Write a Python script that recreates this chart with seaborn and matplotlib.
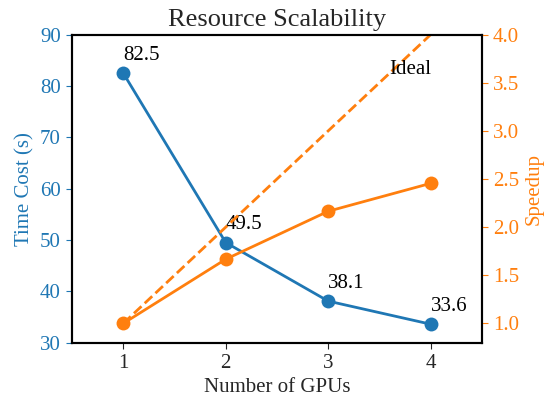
import matplotlib
matplotlib.use("Agg")
import matplotlib.pyplot as plt
import seaborn as sns
import pandas as pd

gpus = [1, 2, 3, 4]
time_cost = [82.5, 49.5, 38.1, 33.6]
speedup = [1.0, 1.667, 2.165, 2.455]
ideal = [1, 2, 3, 4]
time_labels = ["82.5", "49.5", "38.1", "33.6"]

sns.set_style("ticks")
plt.rcParams['font.family'] = ['Liberation Serif', 'DejaVu Serif']
plt.rcParams['mathtext.fontset'] = 'stix'

blue = "#1f77b4"
orange = "#ff7f0e"

df = pd.DataFrame({"gpus": gpus, "time": time_cost, "speedup": speedup, "ideal": ideal})

fig = plt.figure(figsize=(5.48, 4.07), dpi=100)
ax = fig.add_axes([0.1314, 0.158, 0.748, 0.757])
ax2 = ax.twinx()

sns.lineplot(data=df, x="gpus", y="time", ax=ax, color=blue, marker="o",
             markersize=10, linewidth=2, markeredgewidth=0)
sns.lineplot(data=df, x="gpus", y="speedup", ax=ax2, color=orange, marker="o",
             markersize=10, linewidth=2, markeredgewidth=0)
sns.lineplot(data=df, x="gpus", y="ideal", ax=ax2, color=orange, linestyle="--",
             linewidth=2)

for x, y, lab in zip(gpus, time_cost, time_labels):
    ax.annotate(lab, (x, y), xytext=(0, 6), textcoords="offset points",
                ha="left", va="bottom", fontsize=15, color="black")

ax2.text(3.8, 3.64, "Ideal", ha="center", va="center", fontsize=15, color="black")

ax.set_xlim(0.5, 4.5)
ax.set_ylim(30, 90)
ax2.set_ylim(0.8, 4.0)
ax.set_xticks(gpus)
ax.set_yticks([30, 40, 50, 60, 70, 80, 90])
ax2.set_yticks([1.0, 1.5, 2.0, 2.5, 3.0, 3.5, 4.0])
ax2.set_yticklabels(["1.0", "1.5", "2.0", "2.5", "3.0", "3.5", "4.0"])

ax.set_xlabel("Number of GPUs", fontsize=15)
ax.set_ylabel("Time Cost (s)", fontsize=15, color=blue)
ax2.set_ylabel("Speedup", fontsize=15, color=orange)
ax.set_title("Resource Scalability", fontsize=19)

ax.tick_params(axis="y", colors=blue, labelsize=15, length=4.5)
ax.tick_params(axis="x", labelsize=15, length=4.5)
ax2.tick_params(axis="y", colors=orange, labelsize=15, length=4.5)

for a in (ax, ax2):
    for s in a.spines.values():
        s.set_visible(True)
        s.set_color("black")
        s.set_linewidth(1.5)

fig.savefig("out.png", dpi=100)
